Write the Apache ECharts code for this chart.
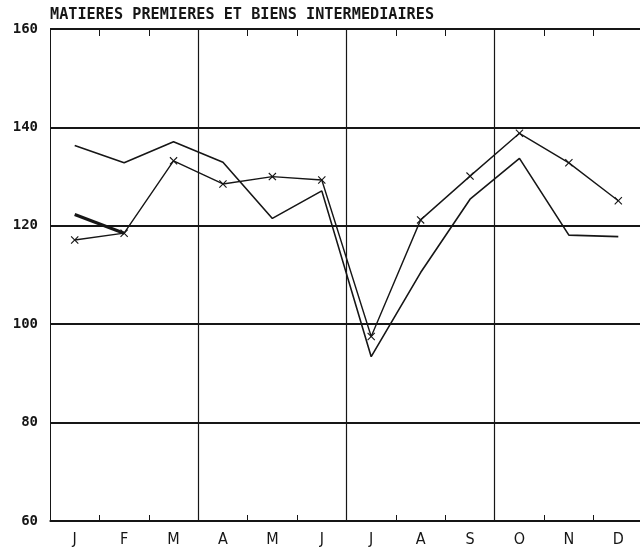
<!DOCTYPE html>
<html>
<head>
<meta charset="utf-8">
<script src="https://cdn.jsdelivr.net/npm/echarts@6/dist/echarts.min.js"></script>
<style>
  html, body { margin: 0; padding: 0; background: #fff; }
  #chart { width: 640px; height: 551px; }
</style>
</head>
<body>
<div id="chart"></div>
<script>
  // month initials, French
  var months = ['J', 'F', 'M', 'A', 'M', 'J', 'J', 'A', 'S', 'O', 'N', 'D'];
  var yTicks = [60, 80, 100, 120, 140, 160];

  // plain line, no markers
  var plainLine = [136.3, 132.8, 137.1, 132.9, 121.5, 127.1, 93.4, 110.5, 125.4, 133.7, 118.1, 117.8];
  // line with x markers
  var crossLine = [117.1, 118.5, 133.2, 128.5, 130.0, 129.3, 97.5, 121.2, 130.1, 138.8, 132.8, 125.1];
  // short heavy segment J-F
  var heavyLine = [122.3, 118.5, null, null, null, null, null, null, null, null, null, null];

  var ink = '#161616';
  var crossMark = 'path://M0,1L1,0L5,4L9,0L10,1L6,5L10,9L9,10L5,6L1,10L0,9L4,5Z';

  var myChart = echarts.init(document.getElementById('chart'), null, { renderer: 'canvas' });

  var option = {
    animation: false,
    backgroundColor: '#fff',
    title: {
      text: 'MATIERES PREMIERES ET BIENS INTERMEDIAIRES',
      left: 45,
      top: 3,
      textStyle: {
        fontFamily: 'DejaVu Sans Mono',
        fontWeight: 'bold',
        fontSize: 15.2,
        color: ink
      }
    },
    grid: {
      left: 50,
      top: 29,
      width: 593,
      height: 492,
      outerBoundsMode: 'none'
    },
    xAxis: [
      {
        type: 'category',
        data: months,
        boundaryGap: true,
        position: 'bottom',
        axisLine: { show: true, lineStyle: { color: ink, width: 1.5 } },
        axisTick: { show: true, inside: true, length: 6, lineStyle: { color: ink, width: 1 } },
        axisLabel: {
          color: ink,
          fontFamily: 'DejaVu Sans Condensed, DejaVu Sans, sans-serif',
          fontSize: 16,
          margin: 11
        },
        splitLine: {
          show: true,
          interval: function (index) {
            return index > 0 && index < months.length && index % 3 === 0;
          },
          lineStyle: { color: ink, width: 1.2 }
        }
      },
      {
        type: 'category',
        data: months,
        boundaryGap: true,
        position: 'top',
        axisLine: { show: false },
        axisTick: { show: true, inside: true, length: 7, lineStyle: { color: ink, width: 1 } },
        axisLabel: { show: false },
        splitLine: { show: false }
      }
    ],
    yAxis: {
      type: 'value',
      min: yTicks[0],
      max: yTicks[yTicks.length - 1],
      interval: 20,
      axisLine: { show: true, lineStyle: { color: ink, width: 1 } },
      axisTick: { show: false },
      axisLabel: {
        color: ink,
        fontFamily: 'DejaVu Sans Mono',
        fontWeight: 'bold',
        fontSize: 14,
        margin: 12
      },
      splitLine: { show: true, lineStyle: { color: ink, width: 2 } }
    },
    series: [
      {
        name: 'plain',
        type: 'line',
        data: plainLine,
        symbol: 'none',
        lineStyle: { color: ink, width: 1.6 },
        z: 3
      },
      {
        name: 'cross',
        type: 'line',
        data: crossLine,
        symbol: crossMark,
        symbolSize: 8,
        showSymbol: true,
        itemStyle: { color: ink },
        lineStyle: { color: ink, width: 1.4 },
        z: 4
      },
      {
        name: 'heavy',
        type: 'line',
        data: heavyLine,
        symbol: 'none',
        connectNulls: false,
        lineStyle: { color: ink, width: 3.2 },
        z: 5
      }
    ]
  };

  myChart.setOption(option);
</script>
</body>
</html>
